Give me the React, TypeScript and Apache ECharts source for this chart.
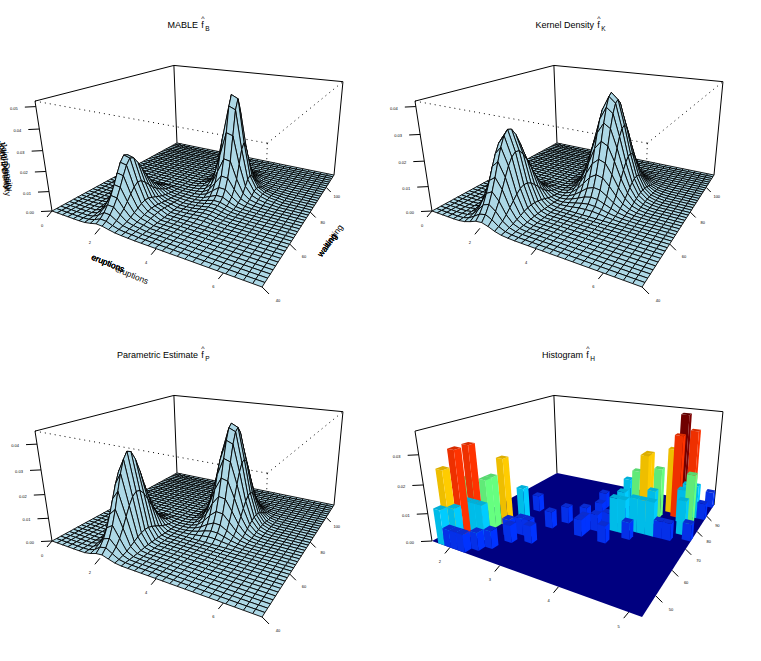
import React, { useEffect, useRef } from "react";
import * as echarts from "echarts";

// Surface heights, unit 0.0001 density. Each row: [eruption column, first waiting row, heights...]
const mableLobe1: number[][] = [
  [4,0,0,0,1,1,1,2,2,3,3,3,3,2,2,1,1,1],
  [5,0,0,1,1,2,3,4,6,7,8,8,7,5,4,3,2,2,1,1],
  [6,0,2,4,6,10,15,21,28,34,38,37,32,26,20,15,11,7,5,3,2],
  [7,0,8,13,22,36,53,74,98,119,132,128,111,90,69,51,37,25,16,9,5],
  [8,0,16,26,44,70,104,146,193,235,261,253,219,177,136,102,73,50,31,18,10],
  [9,0,15,25,43,68,101,142,187,228,253,245,213,172,132,99,71,48,30,18,10],
  [10,0,9,14,24,39,57,80,106,129,143,139,120,97,74,56,40,27,17,10,6],
  [11,0,4,6,10,16,24,34,44,54,60,58,50,41,31,23,17,11,7,4,2],
  [12,0,2,3,5,8,11,16,21,25,28,27,24,19,15,11,8,5,3,2,1],
  [13,0,1,2,3,4,6,9,12,14,16,16,13,11,8,6,4,3,2,1,1],
];
const mableLobe2: number[][] = [
  [13,10,0,0,0,0,0,0,0,0,1,1,2,3,5,5,4,3,2,1,1,1],
  [14,10,0,0,0,0,0,1,1,1,2,4,6,10,14,16,14,10,7,4,3,2,1,1],
  [15,10,0,1,1,1,1,2,2,3,6,10,17,27,38,42,37,27,18,12,7,5,3,2,1],
  [16,10,1,2,3,3,4,5,6,10,18,30,50,81,113,125,110,81,55,35,21,14,9,5,3,1],
  [17,10,3,5,6,8,9,12,16,25,44,75,125,203,281,312,275,203,137,87,53,34,22,12,6,3],
  [18,10,5,8,10,13,15,20,25,40,70,120,200,325,450,500,440,325,220,140,85,55,35,20,10,5],
  [19,10,5,7,10,12,15,19,24,39,68,116,194,315,436,484,426,315,213,136,82,53,34,19,10,5],
  [20,10,3,4,5,7,8,11,14,22,38,65,108,176,243,270,238,176,119,76,46,30,19,11,5,3],
  [21,10,1,2,2,3,3,4,5,8,15,25,42,68,94,104,92,68,46,29,18,11,7,4,2,1],
  [22,10,0,1,1,1,1,2,2,3,6,10,17,27,38,42,37,27,18,12,7,5,3,2,1],
  [23,10,0,0,0,1,1,1,1,2,3,5,8,14,19,21,18,14,9,6,4,2,1,1],
  [24,10,0,0,0,0,0,0,1,1,1,2,4,7,9,10,9,7,4,3,2,1,1],
  [25,10,0,0,0,0,0,0,0,0,1,1,2,3,5,5,4,3,2,1,1,1],
];
const kernelLobe1: number[][] = [
  [4,0,0,0,1,1,2,2,2,3,3,3,3,2,2,1,1,1],
  [5,0,1,2,4,6,8,11,13,15,16,16,14,12,10,7,5,3,2,1,1],
  [6,0,5,9,15,23,32,43,52,59,63,62,57,48,38,28,19,12,7,4,2,1],
  [7,0,13,24,38,59,83,109,133,152,161,158,145,123,98,72,49,31,19,10,5,2,1],
  [8,0,23,40,66,101,142,188,229,261,276,272,249,212,168,124,85,54,32,18,9,4,2],
  [9,0,26,46,75,114,160,211,258,294,311,306,280,239,189,139,95,61,36,20,10,5,2],
  [10,0,19,34,56,85,120,158,193,219,232,229,209,178,141,104,71,45,27,15,8,3,2],
  [11,0,9,16,26,40,57,74,91,104,110,108,99,84,67,49,34,21,13,7,4,2,1],
  [12,0,3,5,9,13,19,24,30,34,36,35,32,28,22,16,11,7,4,2,1,1],
  [13,0,1,1,2,3,4,5,7,8,8,8,7,6,5,4,2,2,1,1],
];
const kernelLobe2: number[][] = [
  [12,13,0,0,1,1,2,3,3,4,5,6,6,6,5,4,3,2,2,1,1],
  [13,13,1,1,2,4,6,9,12,16,19,20,21,20,18,15,11,8,5,3,2,1,1],
  [14,13,2,3,6,11,17,26,35,45,53,58,60,57,51,42,32,23,15,9,5,3,1,1],
  [15,13,4,8,14,24,39,57,78,100,118,130,134,128,113,94,72,51,34,21,12,6,3,1],
  [16,13,7,14,25,43,69,102,139,178,211,233,239,228,202,167,128,92,61,38,22,11,6,3],
  [17,13,11,20,37,64,101,149,205,261,310,342,351,335,297,245,188,134,89,55,32,17,8,4],
  [18,13,12,24,43,74,118,173,238,304,360,397,408,389,346,285,219,156,104,64,37,20,10,4],
  [19,13,12,22,41,70,111,163,224,286,339,374,384,366,325,268,206,147,98,60,35,18,9,4],
  [20,13,9,17,30,52,83,122,167,214,253,279,287,274,243,201,154,110,73,45,26,14,7,3],
  [21,13,5,10,19,32,51,75,103,131,155,171,176,168,149,123,95,67,45,28,16,8,4,2],
  [22,13,3,5,9,16,25,37,51,65,77,85,87,83,74,61,47,33,22,14,8,4,2,1],
  [23,13,1,2,4,6,10,14,20,25,30,33,34,32,29,24,18,13,9,5,3,2,1],
  [24,13,0,1,1,2,3,5,6,8,10,11,11,10,9,8,6,4,3,2,1,1],
  [25,13,0,0,0,1,1,1,2,2,3,3,3,3,3,2,2,1,1],
];
const normalLobe1: number[][] = [
  [5,0,0,0,0,1,1,1,2,2,2,2,2,1,1,1],
  [6,0,1,2,4,7,10,14,18,21,22,22,20,16,12,8,5,3,2,1],
  [7,0,6,11,21,34,53,73,94,110,118,115,104,85,64,44,28,16,9,4,2],
  [8,0,15,30,54,90,137,191,244,286,306,300,270,222,167,115,73,42,22,11,5],
  [9,0,18,36,64,107,163,228,291,340,365,358,322,265,199,138,87,51,27,13,6],
  [10,0,10,20,37,61,93,131,167,195,209,205,185,152,114,79,50,29,15,7,3],
  [11,0,3,5,10,16,24,34,43,50,54,53,47,39,29,20,13,7,4,2,1],
  [12,0,0,1,1,2,3,4,6,7,7,7,6,5,4,3,2,1,1],
];
const normalLobe2: number[][] = [
  [13,14,0,0,1,1,1,2,3,3,4,4,4,3,3,2,1,1],
  [14,14,1,1,3,4,7,10,14,17,19,20,19,16,13,9,6,4,2,1,1],
  [15,14,2,5,9,15,24,36,48,59,67,69,65,56,45,32,22,13,7,4,2,1],
  [16,14,6,12,22,39,62,91,122,150,169,175,165,143,113,82,55,33,19,9,4,2],
  [17,14,10,22,41,72,116,171,229,282,318,328,310,268,212,154,103,62,35,18,8,4],
  [18,14,14,29,55,96,154,226,303,373,420,434,410,355,281,204,136,82,46,23,11,5],
  [19,14,13,28,53,93,149,218,293,361,407,420,396,343,272,197,131,80,45,23,10,5],
  [20,14,9,19,36,64,102,150,202,248,280,289,273,236,187,136,90,55,31,16,7,3],
  [21,14,5,10,19,32,52,76,103,126,142,147,139,120,95,69,46,28,16,8,4,2],
  [22,14,2,4,7,12,19,28,38,46,52,54,51,44,35,25,17,10,6,3,1,1],
  [23,14,0,1,2,3,5,7,10,12,14,14,13,11,9,7,4,3,1,1],
  [24,14,0,0,0,1,1,2,2,3,3,3,3,2,2,1,1,1],
];

// Histogram bars: [eruption bin, waiting bin, count]
const histBars: number[][] = [
  [24,24,1],[22,22,5],[21,21,6],[24,20,1],[23,20,2],[22,20,2],[20,20,4],[21,19,5],[19,18,3],[23,18,3],
  [22,18,2],[15,18,2],[18,17,4],[12,17,1],[18,16,4],[17,16,3],[19,16,2],[23,15,2],[16,14,2],[13,14,1],
  [24,14,1],[17,14,1],[18,13,2],[19,13,2],[20,13,2],[21,13,1],[22,13,1],[16,12,2],[17,12,2],[12,12,1],
  [15,12,1],[14,11,1],[10,11,1],[18,11,1],[13,10,1],[9,9,1],[13,9,1],[16,9,1],[5,12,1],[5,9,2],
  [4,7,4],[3,6,3],[3,5,3],[7,6,1],[8,6,1],[6,5,1],[9,5,1],[2,4,5],[1,4,3],[7,4,1],
  [2,3,2],[3,3,2],[4,3,2],[2,2,5],[6,2,1],[2,1,2],[1,1,4],[5,1,1],[1,0,2],[2,0,1],[3,0,1],[4,0,1],
];
const countColors = ["#000080", "#0033ff", "#00ccff", "#66ff80", "#ffcc00", "#ff3300", "#7f0000"];
const countColorsDark = ["#000080", "#0530e8", "#00bce8", "#60ea78", "#eebe00", "#ee3000", "#700000"];
const countColorsTop = ["#000080", "#0a2cd0", "#00b0d8", "#58d870", "#dcae00", "#d82c00", "#600000"];

const surfaceColumns = 30;
const surfaceRows = 40;
const histBins = 25;

const titles = ["MABLE", "Kernel Density", "Parametric Estimate", "Histogram"];
const titleSubs = ["B", "K", "P", "H"];
const zTickLabels = [
  ["0.00", "0.01", "0.02", "0.03", "0.04", "0.05"],
  ["0.00", "0.01", "0.02", "0.03", "0.04"],
  ["0.00", "0.01", "0.02", "0.03", "0.04"],
  ["0.00", "0.01", "0.02", "0.03"],
];
const zMaxes = [0.0524, 0.0419, 0.0449, 0.0375];
const xTicks = [[0, 2, 4, 6], [0, 2, 4, 6], [0, 2, 4, 6], [2, 3, 4, 5]];
const yTicks = [[40, 60, 80, 100], [40, 60, 80, 100], [40, 60, 80, 100], [50, 60, 70, 80, 90]];
const xRanges = [[0, 7], [0, 7], [0, 7], [1.6, 5.17]];
const yRanges = [[40, 112], [40, 112], [40, 112], [43, 98.5]];

// layout
const panelOrigins = [[0, 0], [380, 0], [0, 330], [380, 330]];
const titleMainX = [[169, 198], [535, 594], [143, 198], [544, 583]];
const xLabelPos = [[108, 263], [108, 263], [108, 263], [132, 275]];
const yLabelPos = [[327, 245], [327, 245], [327, 245], [333, 236]];
const zLabelPos = [[5, 165], [5, 165], [7, 167], [5, 172]];
const FONT = '"Liberation Sans", Arial, sans-serif';

function project(u: number, v: number, t: number, ox: number, oy: number): number[] {
  const w = 1 - 0.262 * u + 0.4578 * v - 0.09 * t;
  return [
    ox + (141.4 * u + 206 * v + 52 - 20.15 * t) / w,
    oy + (0.8 * u - 2.5 * v + 211 - 119 * t) / w,
  ];
}

function buildCells(lobes: number[][][], zMax: number): number[][] {
  const grid: number[][] = [];
  for (let i = 0; i <= surfaceColumns; i++) grid.push(new Array(surfaceRows + 1).fill(0));
  lobes.forEach((lobe) =>
    lobe.forEach((col) => {
      for (let k = 2; k < col.length; k++) grid[col[0]][col[1] + k - 2] += col[k];
    })
  );
  const toT = (h: number) => (h * 0.0001) / zMax;
  const cells: number[][] = [];
  for (let j = surfaceRows - 1; j >= 0; j--) {
    for (let i = 0; i < surfaceColumns; i++) {
      cells.push([i, j, toT(grid[i][j]), toT(grid[i + 1][j]), toT(grid[i + 1][j + 1]), toT(grid[i][j + 1])]);
    }
  }
  return cells;
}

function surfaceSeries(lobes: number[][][], panel: number) {
  const [ox, oy] = panelOrigins[panel];
  return {
    type: "custom",
    coordinateSystem: "none",
    silent: true,
    data: buildCells(lobes, zMaxes[panel]),
    renderItem: (_: any, api: any) => {
      const i = api.value(0);
      const j = api.value(1);
      const u0 = i / surfaceColumns;
      const u1 = (i + 1) / surfaceColumns;
      const v0 = j / surfaceRows;
      const v1 = (j + 1) / surfaceRows;
      return {
        type: "polygon",
        shape: {
          points: [
            project(u0, v0, api.value(2), ox, oy),
            project(u1, v0, api.value(3), ox, oy),
            project(u1, v1, api.value(4), ox, oy),
            project(u0, v1, api.value(5), ox, oy),
          ],
        },
        style: { fill: "#add8e6", stroke: "#000", lineWidth: 0.9 },
      };
    },
  };
}

function histogramSeries(panel: number) {
  const [ox, oy] = panelOrigins[panel];
  const zMax = zMaxes[panel];
  const countUnit = 0.00625;
  const rows = histBars
    .slice()
    .sort((a, b) => b[1] - a[1] || a[0] - b[0])
    .map((b) => [b[0], b[1], b[2]]);
  return {
    type: "custom",
    coordinateSystem: "none",
    silent: true,
    data: rows,
    renderItem: (_: any, api: any) => {
      const i = api.value(0);
      const j = api.value(1);
      const c = api.value(2);
      const t = (c * countUnit) / zMax;
      const u0 = i / histBins;
      const u1 = (i + 1) / histBins;
      const v0 = j / histBins;
      const v1 = (j + 1) / histBins;
      const p = (u: number, v: number, h: number) => project(u, v, h, ox, oy);
      return {
        type: "group",
        children: [
          {
            type: "polygon",
            shape: { points: [p(u0, v0, 0), p(u1, v0, 0), p(u1, v0, t), p(u0, v0, t)] },
            style: { fill: countColorsDark[c] },
          },
          {
            type: "polygon",
            shape: { points: [p(u1, v0, 0), p(u1, v1, 0), p(u1, v1, t), p(u1, v0, t)] },
            style: { fill: countColors[c] },
          },
          {
            type: "polygon",
            shape: { points: [p(u0, v0, t), p(u1, v0, t), p(u1, v1, t), p(u0, v1, t)] },
            style: { fill: countColorsTop[c] },
          },
        ],
      };
    },
  };
}

function line(a: number[], b: number[], dotted = false, width = 1) {
  return {
    type: "line",
    silent: true,
    shape: { x1: a[0], y1: a[1], x2: b[0], y2: b[1] },
    style: { stroke: "#000", lineWidth: width, lineDash: dotted ? [1, 4] : undefined },
  };
}

function label(text: string, x: number, y: number, size: number, rotDeg = 0, align = "center") {
  return {
    type: "text",
    silent: true,
    x,
    y,
    rotation: (rotDeg * Math.PI) / 180,
    style: {
      text,
      x: 0,
      y: 0,
      fontSize: size,
      fontFamily: FONT,
      fill: "#000",
      align,
      verticalAlign: "middle",
      textAlign: align,
      textVerticalAlign: "middle",
    },
  };
}

function panelGraphics(panel: number): any[] {
  const [ox, oy] = panelOrigins[panel];
  const out: any[] = [];
  const c = (u: number, v: number, t: number) => project(u, v, t, ox, oy);
  // box
  out.push(line(c(0, 0, 0), c(0, 0, 1)));
  out.push(line(c(0, 0, 1), c(0, 1, 1)));
  out.push(line(c(0, 1, 0), c(0, 1, 1)));
  out.push(line(c(0, 1, 1), c(1, 1, 1)));
  out.push(line(c(1, 1, 0), c(1, 1, 1)));
  if (panel < 3) {
    out.push(line(c(0, 0, 1), c(1, 0, 1), true));
    out.push(line(c(1, 0, 1), c(1, 1, 1), true));
    out.push(line(c(1, 0, 1), c(1, 0, 0), true));
  }
  // z axis
  zTickLabels[panel].forEach((txt) => {
    const p = c(0, 0, Number(txt) / zMaxes[panel]);
    out.push(line(p, [p[0] - 11, p[1] + 0.5]));
    out.push(label(txt, p[0] - 22, p[1] + 1.5, 4));
  });
  // eruptions axis
  const [x0, x1] = xRanges[panel];
  xTicks[panel].forEach((val) => {
    const p = c((val - x0) / (x1 - x0), 0, 0);
    out.push(line(p, [p[0] - 5, p[1] + 6]));
    out.push(label(String(val), p[0] - 10, p[1] + 14, 4));
  });
  // waiting axis
  const [y0, y1] = yRanges[panel];
  yTicks[panel].forEach((val) => {
    const v = (val - y0) / (y1 - y0);
    const p = c(1, v, 0);
    const s = 1 - 0.4 * v;
    out.push(line(p, [p[0] + 7 * s, p[1] + 7 * s]));
    out.push(label(String(val), p[0] + 16 * s, p[1] + 14 * s, 4));
  });
  // axis names
  out.push(label("eruptions", xLabelPos[panel][0] + 0, xLabelPos[panel][1] + 0, 8.5, -22));
  out.push(label("waiting", yLabelPos[panel][0], yLabelPos[panel][1], 8.5, 53));
  out.push(label("Joint Density", zLabelPos[panel][0], zLabelPos[panel][1], 8.5, -82));
  // title
  const ty = oy + 25;
  const [, endX] = titleMainX[panel];
  out.push(label(titles[panel], endX, ty, 9, 0, "right"));
  out.push(label("f", endX + 4.5, ty, 9));
  out.push(label("^", endX + 5, ty - 7, 7));
  out.push(label(titleSubs[panel], endX + 9.5, ty + 3, 6.5));
  return out;
}

const floor4 = {
  type: "polygon",
  silent: true,
  shape: {
    points: [
      project(0, 0, 0, 380, 330),
      project(1, 0, 0, 380, 330),
      project(1, 1, 0, 380, 330),
      project(0, 1, 0, 380, 330),
    ],
  },
  style: { fill: countColors[0] },
};

const option = {
  animation: false,
  backgroundColor: "#fff",
  graphic: {
    elements: [0, 1, 2, 3].flatMap((p) => panelGraphics(p)).concat([floor4]),
  },
  series: [
    surfaceSeries([mableLobe1, mableLobe2], 0),
    surfaceSeries([kernelLobe1, kernelLobe2], 1),
    surfaceSeries([normalLobe1, normalLobe2], 2),
    histogramSeries(3),
  ],
};

export default function App() {
  const ref = useRef<HTMLDivElement>(null);
  useEffect(() => {
    const chart = echarts.init(ref.current as HTMLDivElement, null, { renderer: "svg" });
    chart.setOption(option as any);
    return () => chart.dispose();
  }, []);
  return <div ref={ref} style={{ position: "absolute", left: 0, top: 0, width: 761, height: 661 }} />;
}
